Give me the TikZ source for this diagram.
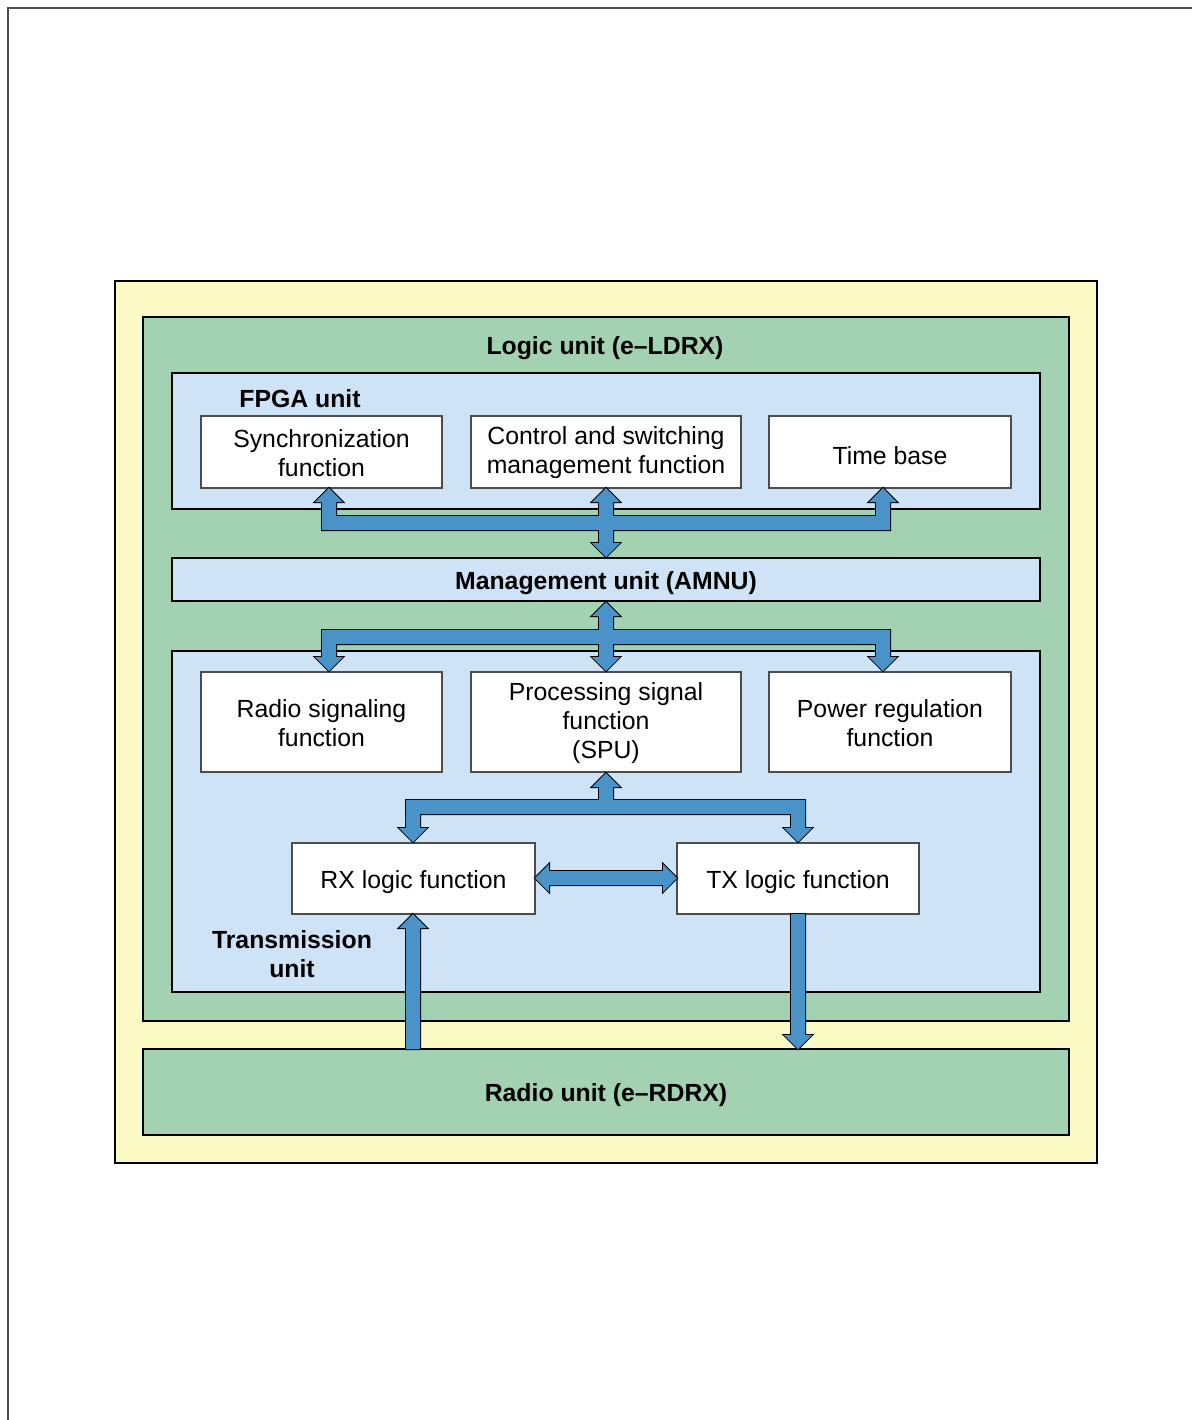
\documentclass[tikz,border=0pt]{standalone}
\usepackage{fontspec}
\setmainfont{Liberation Sans}
\usetikzlibrary{fit}
\definecolor{ylw}{RGB}{251,249,196}
\definecolor{grn}{RGB}{162,210,177}
\definecolor{lblue}{RGB}{207,227,247}
\definecolor{arrblue}{RGB}{74,147,201}
\begin{document}
\begin{tikzpicture}[x=0.5pt,y=-0.5pt,
  container/.style={draw=black, line width=1pt, inner sep=0pt},
  fbox/.style={draw=black!70, line width=0.6pt, fill=white, inner sep=0pt},
  txt/.style={align=center, inner sep=0pt, yshift=-0.5pt, font=\fontsize{12.4}{14.5}\selectfont},
  txtone/.style={txt, yshift=-1.5pt},
  ttl/.style={font=\fontsize{12.4}{14.5}\selectfont\bfseries, align=center, inner sep=0pt},
  ttlone/.style={ttl, yshift=-1.7pt},
  arrout/.style={draw=black, line width=1pt, line join=miter},
  arrfill/.style={fill=arrblue}]
\useasboundingbox (0,0) rectangle (1192,1420);
% page frame
\draw[black!70, line width=1pt] (8,1420) -- (8,8) -- (1192,8);
% containers
\node[container, fill=ylw, fit={(115,281) (1097,1163)}] (outer) {};
\node[container, fill=grn, fit={(143,317) (1069,1021)}] (logic) {};
\node[container, fill=lblue, fit={(172,373) (1040,509)}] (fpga) {};
\node[container, fill=lblue, fit={(172,558) (1040,601)}, label={[ttlone]center:Management unit (AMNU)}] (amnu) {};
\node[container, fill=lblue, fit={(172,651) (1040,992)}] (trans) {};
\node[container, fill=grn, fit={(143,1049) (1069,1135)}, label={[ttlone]center:Radio unit (e--RDRX)}] (radio) {};
% titles
\node[ttl] (logict) at (605,348) {Logic unit (e--LDRX)};
\node[ttl] (fpgat) at (300,399) {FPGA unit};
\node[ttl] (transt) at (292,954) {Transmission\\unit};
% function boxes
\node[fbox, fit={(201,416) (442,488)}, label={[txt]center:Synchronization\\function}] (sync) {};
\node[fbox, fit={(471,416) (741,488)}, label={[txt]center:Control and switching\\management function}] (ctrl) {};
\node[fbox, fit={(769,416) (1011,488)}, label={[txtone]center:Time base}] (time) {};
\node[fbox, fit={(201,672) (442,772)}, label={[txt]center:Radio signaling\\function}] (rsig) {};
\node[fbox, fit={(471,672) (741,772)}, label={[txt]center:Processing signal\\function\\(SPU)}] (spu) {};
\node[fbox, fit={(769,672) (1011,772)}, label={[txt]center:Power regulation\\function}] (power) {};
\node[fbox, fit={(292,843) (535,914)}, label={[txtone]center:RX logic function}] (rx) {};
\node[fbox, fit={(677,843) (919,914)}, label={[txtone]center:TX logic function}] (tx) {};
% block arrows
\def\busA{(322,530) -- (322,502) -- (315,502) -- (329,488) -- (343,502) -- (336,502) -- (336,516) -- (876,516) -- (876,502) -- (869,502) -- (883,488) -- (897,502) -- (890,502) -- (890,530) -- cycle}
\def\busAc{(599,502) -- (592,502) -- (606,488) -- (620,502) -- (613,502) -- (613,543) -- (620,543) -- (606,557) -- (592,543) -- (599,543) -- cycle}
\def\busB{(322,630) -- (890,630) -- (890,657) -- (897,657) -- (883,671) -- (869,657) -- (876,657) -- (876,644) -- (336,644) -- (336,657) -- (343,657) -- (329,671) -- (315,657) -- (322,657) -- cycle}
\def\busBc{(599,616) -- (592,616) -- (606,602) -- (620,616) -- (613,616) -- (613,657) -- (620,657) -- (606,671) -- (592,657) -- (599,657) -- cycle}
\def\busC{(406,828) -- (406,800) -- (599,800) -- (599,787) -- (592,787) -- (606,773) -- (620,787) -- (613,787) -- (613,800) -- (805,800) -- (805,828) -- (812,828) -- (798,842) -- (784,828) -- (791,828) -- (791,814) -- (420,814) -- (420,828) -- (427,828) -- (413,842) -- (399,828) -- cycle}
\def\rxtx{(535,878) -- (549,864) -- (549,871) -- (663,871) -- (663,864) -- (677,878) -- (663,892) -- (663,885) -- (549,885) -- (549,892) -- cycle}
\def\rxup{(406,1049) -- (406,928) -- (399,928) -- (413,914) -- (427,928) -- (420,928) -- (420,1049) -- cycle}
\def\txdown{(791,914) -- (805,914) -- (805,1035) -- (812,1035) -- (798,1049) -- (784,1035) -- (791,1035) -- cycle}
\path[arrout] \busA; \path[arrout] \busAc;
\path[arrfill] \busA; \path[arrfill] \busAc;
\path[arrout] \busB; \path[arrout] \busBc;
\path[arrfill] \busB; \path[arrfill] \busBc;
\path[arrout] \busC; \path[arrfill] \busC;
\path[arrout] \rxtx; \path[arrfill] \rxtx;
\path[arrout] \rxup; \path[arrfill] \rxup;
\path[arrout] \txdown; \path[arrfill] \txdown;
\end{tikzpicture}
\end{document}
